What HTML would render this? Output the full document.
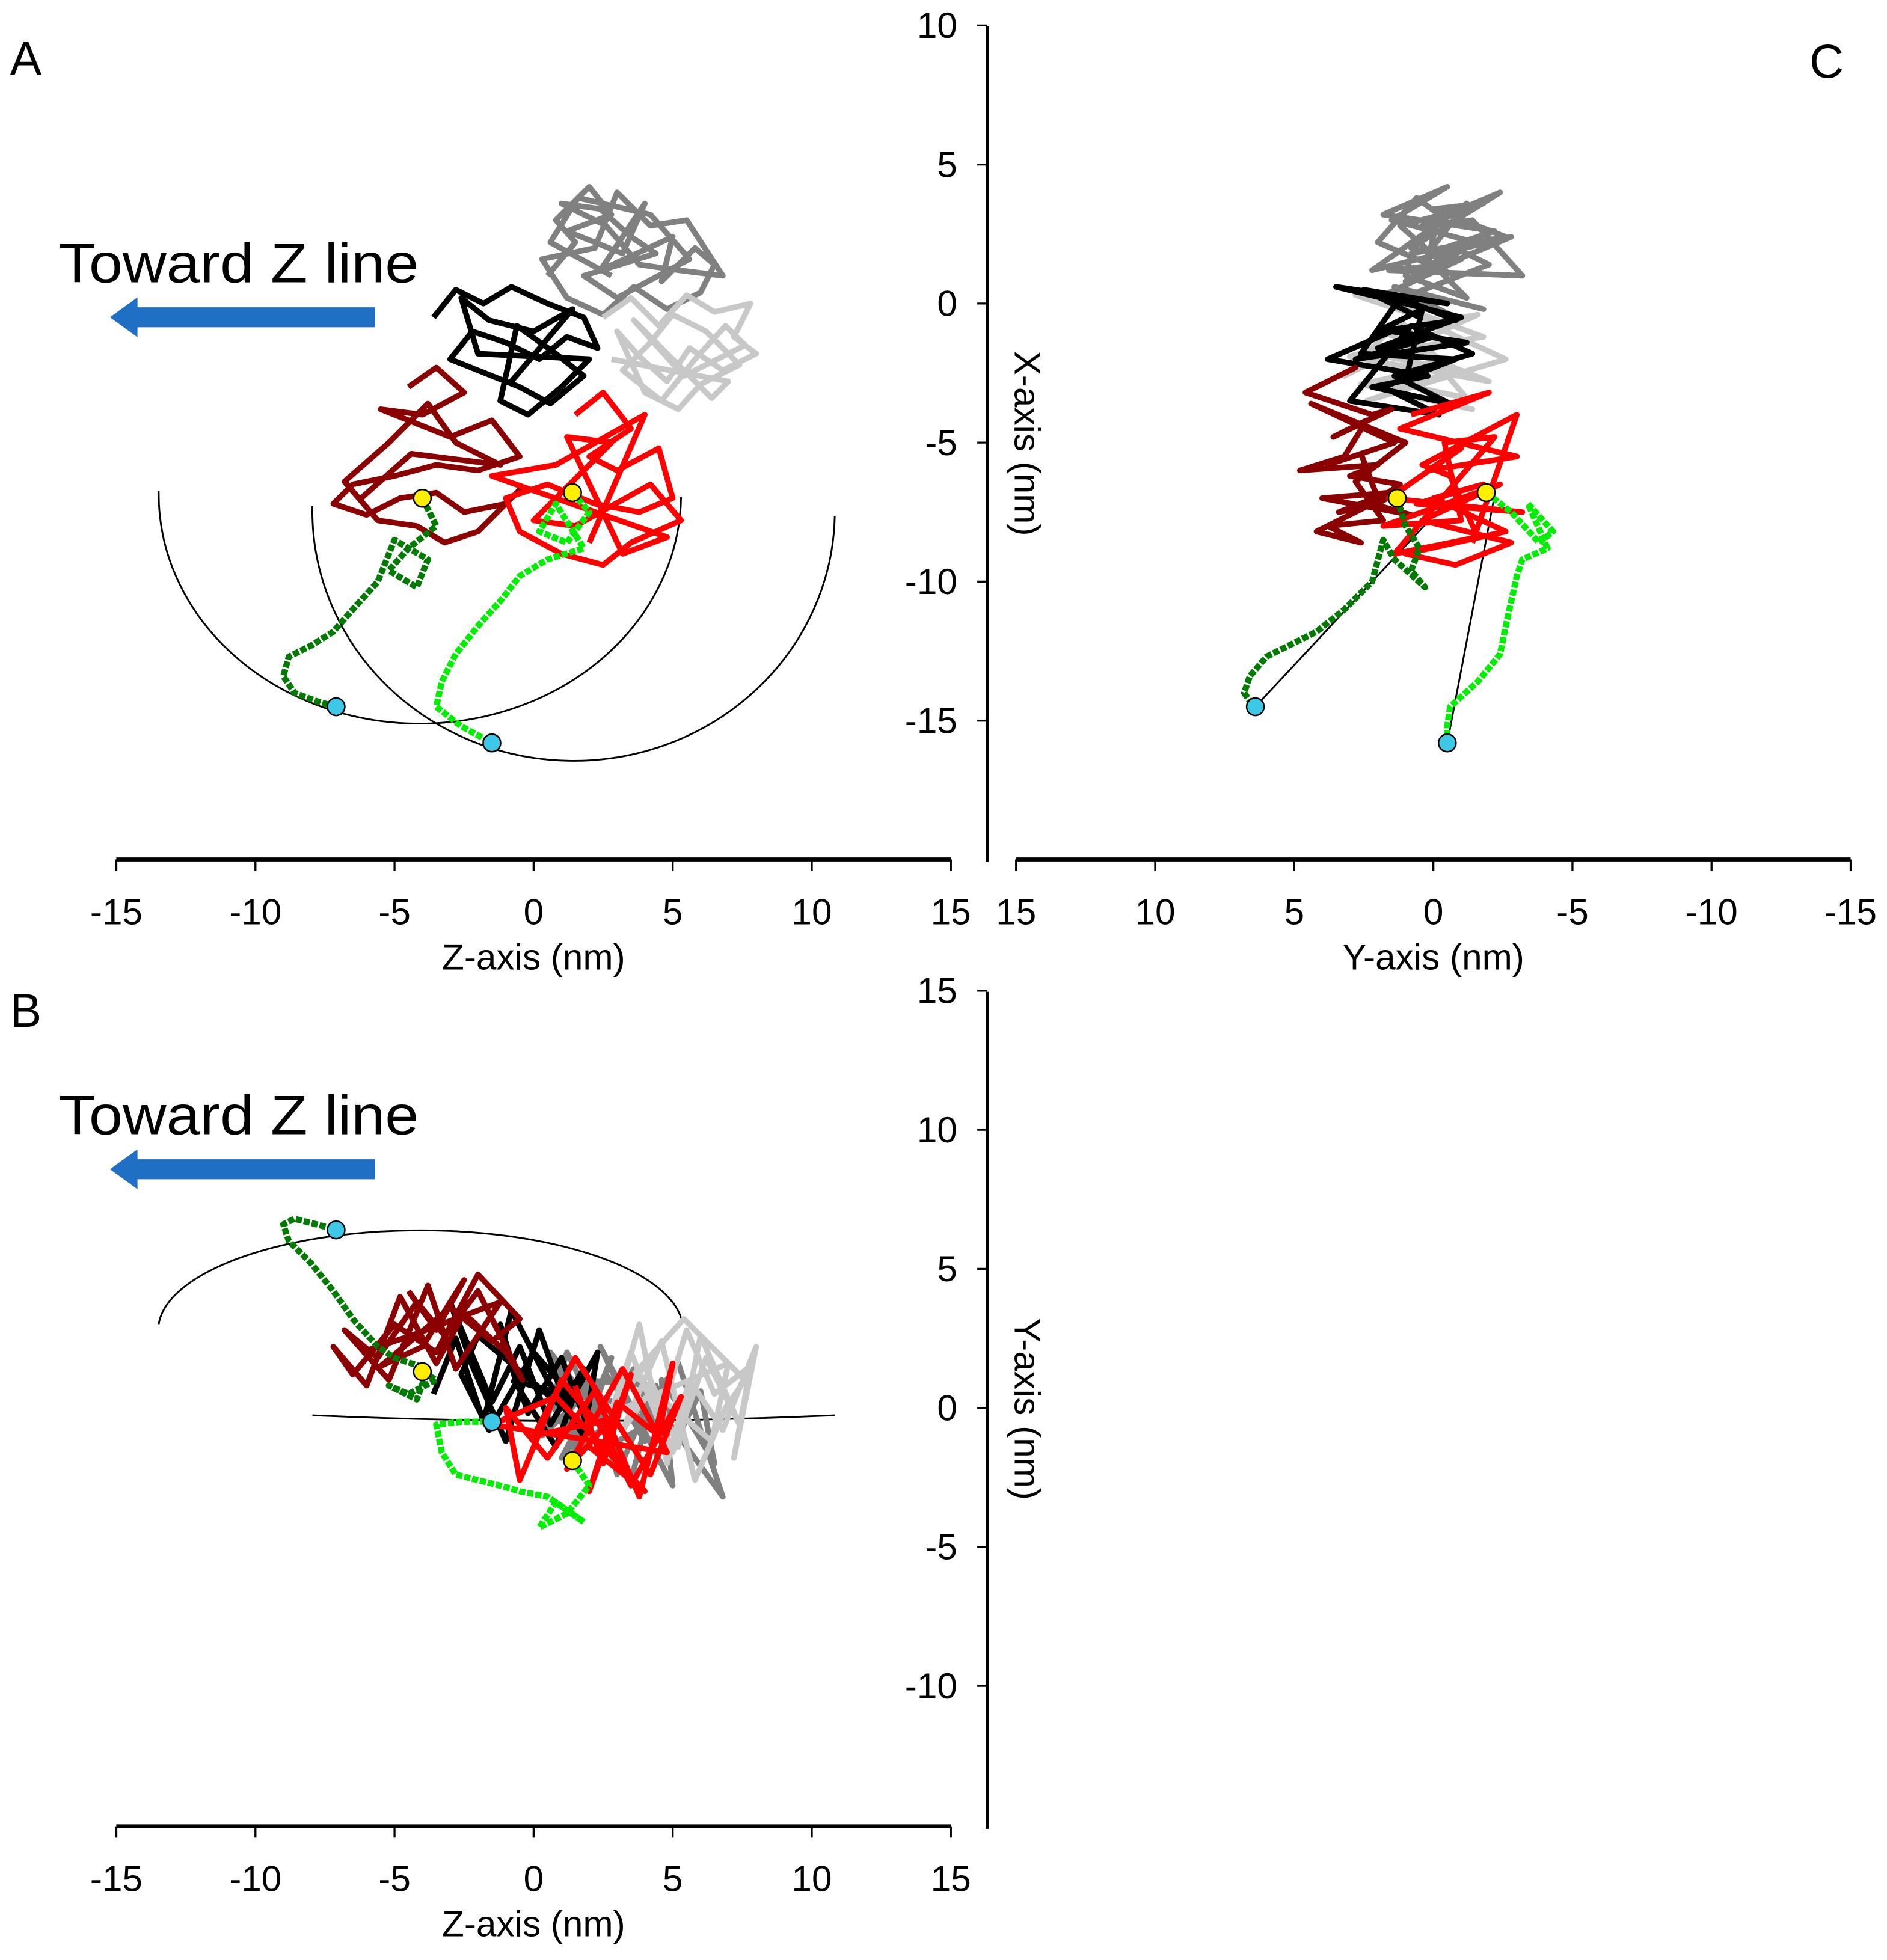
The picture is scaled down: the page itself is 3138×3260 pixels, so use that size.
<!DOCTYPE html>
<html><head><meta charset="utf-8"><style>
html,body{margin:0;padding:0;background:#fff}
svg{display:block}
text{font-family:"Liberation Sans",Arial,sans-serif;fill:#000}
</style></head><body>
<svg id="fig" width="3138" height="3260" viewBox="0 0 1510 1569" preserveAspectRatio="none" xmlns="http://www.w3.org/2000/svg">
<rect x="0" y="0" width="1510" height="1569" fill="#fff"/>
<text x="8" y="60" font-size="38">A</text>
<text x="1448" y="62" font-size="38">C</text>
<text x="8" y="822" font-size="38">B</text>
<text x="47" y="226" font-size="44" textLength="288" lengthAdjust="spacingAndGlyphs">Toward Z line</text>
<text x="47" y="908" font-size="44" textLength="288" lengthAdjust="spacingAndGlyphs">Toward Z line</text>
<polygon points="300,246 110,246 110,238 88,254 110,270 110,262 300,262" fill="#1f6fc5"/>
<polygon points="300,928 110,928 110,920 88,936 110,952 110,944 300,944" fill="#1f6fc5"/>
<g id="arcs" fill="none" stroke="#000" stroke-width="1.4">
<path d="M127,393 A207,182 0 0 0 545,398"/>
<path d="M250,405 A209,200 0 0 0 668,413"/>
<path d="M127,1060 A210,80 0 0 1 545,1055"/>
<path d="M250,1133 Q459,1142 668,1133"/>
</g>
<g id="plots"></g>
<g id="axes"></g>
</svg>
<script>
// 3D trajectory data, each point [z, x, y] in nm
const darkGray=[[0.5,1.0,0.5],[1.5,2.2,-1.5],[0.8,3.0,1.5],[2.0,4.2,-0.5],[2.8,3.2,1.8],[1.2,2.6,-2.2],[3.2,1.8,0.2],[4.0,3.6,-1.2],[2.4,1.2,2.2],[5.0,2.4,-2.8],[4.6,0.8,1.0],[5.8,2.0,-0.8],[6.5,1.4,-2.0],[6.0,0.4,0.6],[4.8,-0.2,-1.8],[3.6,0.6,1.4],[2.5,-0.4,-0.6],[1.2,0.2,2.0],[0.3,1.6,-1.0],[2.2,2.0,0.8],[3.0,4.0,-2.4],[4.2,2.8,0.4],[5.5,3.0,-1.4],[6.8,1.0,-3.2],[5.2,1.2,1.6],[3.8,1.4,-0.4],[2.6,2.8,1.2],[1.0,3.6,-1.8],[2.4,3.4,0.0],[3.5,2.4,-2.6],[4.4,1.8,0.8],[1.8,1.0,1.0],[3.0,0.2,-1.2],[5.6,1.6,0.2],[4.2,3.2,-0.2],[1.6,3.8,0.6],[0.6,2.2,2.0],[2.8,1.0,-0.8]];
const lightGray=[[2.5,-0.5,-1.0],[3.5,0.2,2.0],[4.5,-0.8,-0.5],[5.5,0.3,2.8],[6.5,-0.3,0.5],[7.8,0.0,1.5],[7.2,-1.2,-1.8],[8.0,-1.8,2.2],[6.8,-2.4,-0.8],[5.6,-1.6,1.0],[4.8,-2.8,-2.0],[3.8,-1.9,3.0],[3.0,-1.0,0.2],[4.0,-3.2,1.5],[5.2,-3.8,-1.4],[6.0,-2.9,2.6],[7.4,-2.2,-0.6],[6.2,-1.0,1.8],[5.0,-0.4,-1.6],[4.2,-1.4,0.6],[3.2,-2.4,-0.8],[4.6,-3.5,2.4],[5.8,-2.0,-2.6],[6.9,-0.8,0.0],[7.6,-1.5,1.0],[5.4,-2.6,3.2],[3.6,-0.6,1.2],[6.4,-3.4,-1.2],[7.0,-2.8,1.6],[2.8,-2.0,-0.2]];
const blackHead=[[-3.6,-0.5,0.5],[-2.8,0.5,2.5],[-1.8,0.0,-0.5],[-0.8,0.6,3.5],[0.5,0.0,1.0],[1.8,-0.5,-1.0],[2.3,-1.6,2.0],[1.2,-1.2,0.0],[0.2,-2.0,2.8],[-1.0,-1.4,-1.2],[-2.2,-1.0,1.5],[-3.0,-2.0,3.8],[-1.5,-2.6,0.2],[-0.5,-3.0,2.2],[0.6,-3.6,-0.6],[1.8,-2.6,1.4],[0.8,-1.8,-1.4],[-0.6,-0.8,0.8],[-1.2,-3.5,3.0],[-0.2,-4.0,-0.2],[1.0,-3.0,1.8],[2.0,-2.0,-0.8],[-2.0,-1.8,2.6],[-2.6,0.2,1.2],[-1.6,-0.6,-0.8],[0.0,-1.0,2.0],[1.4,-0.2,0.4],[-0.8,-2.8,1.0]];
const darkRed=[[-4.5,-3.0,4.2],[-3.5,-2.3,2.8],[-2.5,-3.2,4.6],[-4.0,-4.0,2.2],[-5.5,-3.8,1.5],[-3.0,-4.8,3.6],[-1.5,-4.2,2.4],[-0.5,-5.5,3.2],[-2.0,-6.0,4.8],[-3.5,-5.8,2.0],[-5.0,-6.2,3.0],[-6.5,-6.5,1.2],[-7.2,-7.2,2.2],[-6.0,-7.6,0.8],[-4.8,-7.0,4.0],[-3.5,-6.8,1.6],[-2.5,-7.5,3.4],[-1.0,-7.2,2.0],[-0.4,-6.6,1.0],[-2.0,-8.2,4.2],[-3.2,-8.6,2.6],[-4.2,-8.0,3.8],[-5.6,-7.8,1.8],[-6.8,-6.4,2.8],[-5.2,-5.0,1.0],[-3.8,-3.6,4.4],[-2.8,-5.0,1.4],[-1.2,-5.8,3.8],[-4.4,-5.4,2.6],[-6.2,-7.0,2.0]];
const redLobe=[[1.5,-4.0,0.8],[2.5,-3.2,-2.0],[3.5,-4.5,1.2],[2.0,-5.5,-3.0],[3.0,-6.0,0.2],[4.5,-5.2,-1.0],[5.0,-7.0,1.6],[3.8,-7.5,-3.2],[2.2,-7.2,0.6],[0.5,-6.5,-1.8],[-1.0,-7.0,0.0],[-0.5,-8.2,-2.6],[1.0,-9.0,1.0],[2.5,-9.4,-0.8],[3.5,-8.6,-2.8],[5.3,-7.8,0.4],[4.2,-6.5,-2.4],[1.5,-8.0,1.8],[0.0,-7.8,-1.0],[2.8,-5.0,-0.4],[1.2,-4.8,-2.2],[3.2,-9.0,1.4],[4.8,-8.4,-1.6],[-1.5,-6.2,-0.6],[0.8,-5.8,0.4],[4.0,-4.0,-3.0],[2.0,-8.6,-1.4]];
const darkGreen=[[-4,-7,1.3],[-3.5,-8,1],[-4.5,-8.8,0.5],[-5.2,-9.6,0.8],[-4.2,-10.2,0.3],[-3.8,-9.2,1.4],[-5,-8.5,1.8],[-5.6,-10,2.2],[-6.5,-11,3.2],[-7.2,-11.8,4.2],[-8,-12.3,5.2],[-8.8,-12.7,6],[-9,-13.4,6.6],[-8.6,-14,6.8],[-7.8,-14.3,6.6],[-7.1,-14.5,6.4]];
const lightGreen=[[1.4,-6.8,-1.9],[2,-7.5,-2.8],[1.2,-8.6,-3.8],[0.2,-8.2,-4.3],[0.8,-7.2,-3.4],[1.8,-8.8,-4.1],[0.5,-9.2,-3.2],[-0.5,-9.8,-3],[-1.2,-10.7,-2.8],[-2,-11.6,-2.6],[-2.8,-12.6,-2.4],[-3.3,-13.6,-1.6],[-3.5,-14.5,-0.6],[-2.6,-15.2,-0.5],[-1.5,-15.8,-0.5]];
const ticksZ=[-15,-10,-5,0,5,10,15];
const ticksY=[15,10,5,0,-5,-10,-15];
const ticksXA=[10,5,0,-5,-10,-15];
const ticksYB=[15,10,5,0,-5,-10];

const NS="http://www.w3.org/2000/svg";
const plots=document.getElementById('plots'), axes=document.getElementById('axes');
const K=22.26;
const zA=z=>427+z*K, xA=x=>243-x*K;
const yC=y=>1147-y*K;
const yB=y=>1127-y*K;
const series=[
 {d:darkGray,c:'#808080',n:'dark-gray'},{d:lightGray,c:'#c8c8c8',n:'light-gray'},
 {d:blackHead,c:'#000',n:'black'},{d:darkRed,c:'#8b0000',n:'dark-red'},
 {d:redLobe,c:'#ff0000',n:'red'},{d:darkGreen,c:'#007a00',n:'dark-green'},
 {d:lightGreen,c:'#00ee00',n:'light-green'}];
const panels=[
 {n:'a',fx:p=>zA(p[0]),fy:p=>xA(p[1])},
 {n:'c',fx:p=>yC(p[2]),fy:p=>xA(p[1])},
 {n:'b',fx:p=>zA(p[0]),fy:p=>yB(p[2])}];
function mk(tag,attrs,parent){const e=document.createElementNS(NS,tag);for(const k in attrs)e.setAttribute(k,attrs[k]);parent.appendChild(e);return e;}
[darkGreen,lightGreen].forEach((s,i)=>{
 const a=s[0],b=s[s.length-1];
 const l=mk('line',{x1:yC(b[2]),y1:xA(b[1]),x2:yC(a[2]+(i?-0.3:-1.8)),y2:xA(a[1]-0.1),stroke:'#000','stroke-width':1.4},plots);
 
 
});
panels.forEach(P=>{
 series.forEach(S=>{
  const pts=S.d.map(p=>P.fx(p).toFixed(1)+','+P.fy(p).toFixed(1)).join(' ');
  const isG=S.n.indexOf('green')>=0;
  const pl=mk('polyline',{points:pts,fill:'none',stroke:S.c,'stroke-width':isG?5:4.5,'stroke-linejoin':'round','stroke-dasharray':isG?'5 1.5':'none'},plots);
  
  
 });
 [darkGreen,lightGreen].forEach(s=>{
  const y=s[0],c=s[s.length-1];
  const m1=mk('circle',{cx:P.fx(y),cy:P.fy(y),r:7,fill:'#ffee00',stroke:'#000','stroke-width':1.2},plots);
  
  
  const m2=mk('circle',{cx:P.fx(c),cy:P.fy(c),r:7,fill:'#3cc8e6',stroke:'#000','stroke-width':1.2},plots);
  
  
 });
});
function txt(s,x,y,anchor,size,name,rot){const t=mk('text',{x:x,y:y,'text-anchor':anchor,'font-size':size},axes);if(rot)t.setAttribute('transform','rotate(90 '+x+' '+y+')');t.textContent=s;return t;}
function xaxis(y0,fx,ticks,title,cx,name){
 const ln=mk('line',{x1:fx(ticks[0]),y1:y0,x2:fx(ticks[ticks.length-1]),y2:y0,stroke:'#000','stroke-width':3.2},axes);
 
 
 ticks.forEach(t=>{const tk=mk('line',{x1:fx(t),y1:y0,x2:fx(t),y2:y0+9,stroke:'#000','stroke-width':1.6},axes);
  
  
  txt(String(t),fx(t),y0+52,'middle',29,name+'-tick-label');});
 txt(title,cx,y0+88,'middle',29,name+'-title');
}
function yaxis(x0,fy,ticks,y1,y2,title,ty,name){
 const ln=mk('line',{x1:x0,y1:y1,x2:x0,y2:y2,stroke:'#000','stroke-width':2.6},axes);
 
 
 ticks.forEach(t=>{const tk=mk('line',{x1:x0-8,y1:fy(t),x2:x0,y2:fy(t),stroke:'#000','stroke-width':1.6},axes);
  
  
  txt(String(t),x0-24,fy(t)+10,'end',29,name+'-tick-label');});
 txt(title,x0+22,ty,'middle',29,name+'-title',true);
}
xaxis(688,zA,ticksZ,'Z-axis (nm)',427,'x-axis-a');
xaxis(688,yC,ticksY,'Y-axis (nm)',1147,'x-axis-c');
xaxis(1462,zA,ticksZ,'Z-axis (nm)',427,'x-axis-b');
yaxis(790,xA,ticksXA,21,690,'X-axis (nm)',355,'y-axis-ac');
yaxis(790,yB,ticksYB,794,1464,'Y-axis (nm)',1128,'y-axis-b');
</script>
</body></html>
